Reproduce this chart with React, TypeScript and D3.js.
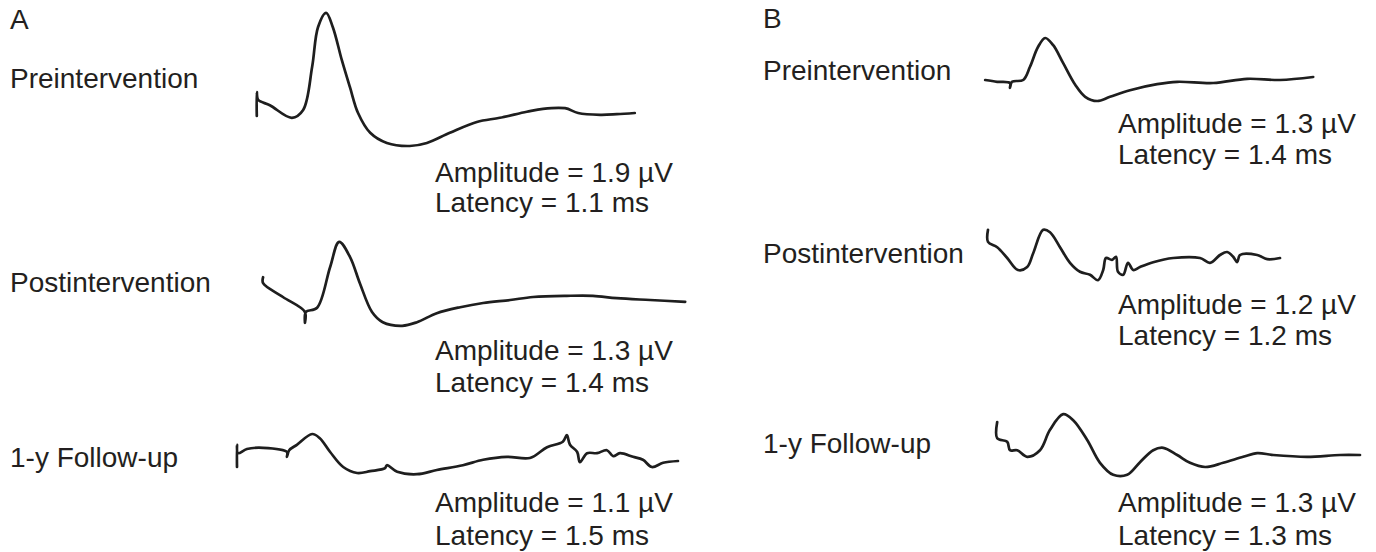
import React from "react";
import * as d3 from "d3";

// ---------- Data (time in ms-like units, amplitude in µV-like units, relative to baseline) ----------
const panelLabels = ["A", "B"];
const rowLabels = ["Preintervention", "Postintervention", "1-y Follow-up"];
const amplitudesA = ["1.9", "1.3", "1.1"];
const latenciesA = ["1.1", "1.4", "1.5"];
const amplitudesB = ["1.3", "1.2", "1.3"];
const latenciesB = ["1.4", "1.2", "1.3"];

const aPreT = [0.44, 0.44, 0.47, 0.73, 1.22, 1.47, 1.67, 1.8, 1.98, 2.13, 2.33, 2.51, 2.69, 2.96, 3.33, 3.84, 4.22, 4.73, 5.33, 5.84, 6.44, 6.8, 7.29, 7.58, 8.07, 8.44, 8.84];
const aPreV = [-0.05, 0.35, 0.22, 0.13, -0.08, 0.05, 0.77, 1.43, 1.67, 1.43, 0.88, 0.43, 0.0, -0.33, -0.5, -0.55, -0.5, -0.33, -0.15, -0.08, 0.02, 0.07, 0.08, 0.0, -0.03, -0.02, 0.0];

const aPostT = [0.58, 0.58, 1.02, 1.51, 1.51, 1.53, 1.78, 2.07, 2.27, 2.51, 2.73, 3.0, 3.24, 3.67, 4.0, 4.44, 4.96, 5.47, 6.07, 6.58, 7.33, 7.91, 8.44, 9.18, 9.96];
const aPostV = [0.38, 0.28, 0.05, -0.2, -0.38, -0.2, -0.13, 0.55, 0.97, 0.72, 0.28, -0.2, -0.37, -0.43, -0.37, -0.22, -0.12, -0.05, 0.0, 0.05, 0.07, 0.07, 0.03, 0.0, -0.03];

const aFupT = [0.0, 0.0, 0.02, 0.22, 0.58, 1.11, 1.11, 1.16, 1.33, 1.67, 1.84, 2.07, 2.36, 2.67, 2.96, 3.29, 3.33, 3.56, 4.0, 4.44, 5.02, 5.47, 6.0, 6.51, 6.89, 7.24, 7.33, 7.4, 7.56, 7.62, 7.78, 8.0, 8.22, 8.36, 8.51, 8.8, 9.02, 9.22, 9.47, 9.8];
const aFupV = [-0.2, 0.17, 0.03, 0.1, 0.12, 0.05, -0.03, 0.08, 0.17, 0.35, 0.28, 0.05, -0.2, -0.3, -0.27, -0.22, -0.17, -0.28, -0.32, -0.25, -0.17, -0.08, -0.03, -0.05, 0.13, 0.22, 0.33, 0.17, 0.05, -0.12, 0.03, 0.03, 0.08, -0.02, 0.03, -0.03, -0.08, -0.2, -0.13, -0.1];

const bPreT = [0.13, 0.43, 0.75, 0.75, 0.8, 1.08, 1.25, 1.45, 1.63, 1.83, 2.08, 2.38, 2.63, 2.93, 3.25, 3.75, 4.43, 4.93, 5.83, 6.68, 7.5, 8.33];
const bPreV = [0.0, -0.03, -0.05, -0.13, -0.03, 0.0, 0.22, 0.55, 0.7, 0.58, 0.28, -0.08, -0.28, -0.35, -0.28, -0.17, -0.07, -0.03, -0.05, 0.02, 0.0, 0.05];

const bPostT = [0.2, 0.2, 0.43, 0.68, 0.95, 1.18, 1.33, 1.58, 1.75, 2.0, 2.25, 2.5, 2.75, 2.95, 3.08, 3.15, 3.3, 3.4, 3.45, 3.58, 3.7, 3.83, 4.0, 4.33, 4.83, 5.5, 5.75, 6.0, 6.18, 6.33, 6.43, 6.5, 6.93, 7.18, 7.5];
const bPostV = [0.47, 0.27, 0.18, 0.0, -0.2, -0.15, 0.08, 0.47, 0.43, 0.18, -0.08, -0.23, -0.28, -0.37, -0.2, 0.0, -0.03, 0.02, -0.23, -0.28, -0.08, -0.2, -0.15, -0.07, 0.0, 0.0, -0.08, 0.05, 0.1, 0.02, -0.07, 0.05, 0.05, -0.02, 0.0];

const bFupT = [0.43, 0.43, 0.68, 0.75, 0.93, 1.18, 1.5, 1.75, 2.08, 2.33, 2.68, 3.0, 3.33, 3.68, 4.0, 4.33, 4.58, 4.93, 5.25, 5.63, 6.08, 6.58, 6.93, 7.33, 8.18, 9.0, 9.5];
const bFupV = [0.55, 0.28, 0.22, 0.08, 0.08, -0.03, 0.08, 0.42, 0.68, 0.58, 0.25, -0.13, -0.33, -0.33, -0.12, 0.08, 0.12, 0.0, -0.13, -0.2, -0.13, -0.03, 0.03, 0.0, -0.03, 0.0, 0.0];

// ---------- Layout ----------
const W = 1376;
const H = 552;
const FONT = "'Liberation Sans', Arial, Helvetica, sans-serif";
const TEXT_COLOR = "#231f20";
const FS = 28;

const xA = d3.scaleLinear().domain([0, 10]).range([237, 687]);
const xB = d3.scaleLinear().domain([0, 10]).range([980, 1380]);
const yFor = (base: number) => d3.scaleLinear().domain([-1, 1]).range([base + 60, base - 60]);

type Trace = { t: number[]; v: number[]; x: d3.ScaleLinear<number, number>; base: number };

const traces: Trace[] = [
  { t: aPreT, v: aPreV, x: xA, base: 113 },
  { t: aPostT, v: aPostV, x: xA, base: 300 },
  { t: aFupT, v: aFupV, x: xA, base: 455 },
  { t: bPreT, v: bPreV, x: xB, base: 80 },
  { t: bPostT, v: bPostV, x: xB, base: 258 },
  { t: bFupT, v: bFupV, x: xB, base: 455 },
];

const panelX = [10, 763];
const panelLabelY = [29, 28];
const rowLabelY = [[88, 292, 467], [80, 263, 453]];
const statX = [435, 1118];
const statY = [[182, 360, 512], [133, 314, 512]];
const statGap = [[30, 32, 33], [31, 31, 33]];

export default function App() {
  const stats = [
    { amp: amplitudesA, lat: latenciesA },
    { amp: amplitudesB, lat: latenciesB },
  ];
  return (
    <svg
      width={W}
      height={H}
      viewBox={`0 0 ${W} ${H}`}
      style={{ position: "absolute", left: 0, top: 0, background: "#fff" }}
    >
      <rect x={0} y={0} width={W} height={H} fill="#fff" />
      {traces.map((tr, i) => {
        const y = yFor(tr.base);
        const pts: [number, number][] = tr.t.map((t, j) => [t, tr.v[j]]);
        const line = d3
          .line<[number, number]>()
          .x((d) => tr.x(d[0]))
          .y((d) => y(d[1]))
          .curve(d3.curveCatmullRom.alpha(0.5));
        return (
          <path
            key={i}
            d={line(pts) || ""}
            fill="none"
            stroke="#1e1e1e"
            strokeWidth={2.7}
            strokeLinejoin="round"
            strokeLinecap="round"
          />
        );
      })}
      {panelLabels.map((p, pi) => (
        <g key={p} fontFamily={FONT} fontSize={FS} fill={TEXT_COLOR}>
          <text x={panelX[pi]} y={panelLabelY[pi]}>{p}</text>
          {rowLabels.map((r, ri) => (
            <text key={r} x={panelX[pi]} y={rowLabelY[pi][ri]}>{r}</text>
          ))}
          {rowLabels.map((r, ri) => (
            <g key={"s" + r}>
              <text x={statX[pi]} y={statY[pi][ri]}>{`Amplitude = ${stats[pi].amp[ri]} µV`}</text>
              <text x={statX[pi]} y={statY[pi][ri] + statGap[pi][ri]}>{`Latency = ${stats[pi].lat[ri]} ms`}</text>
            </g>
          ))}
        </g>
      ))}
    </svg>
  );
}
